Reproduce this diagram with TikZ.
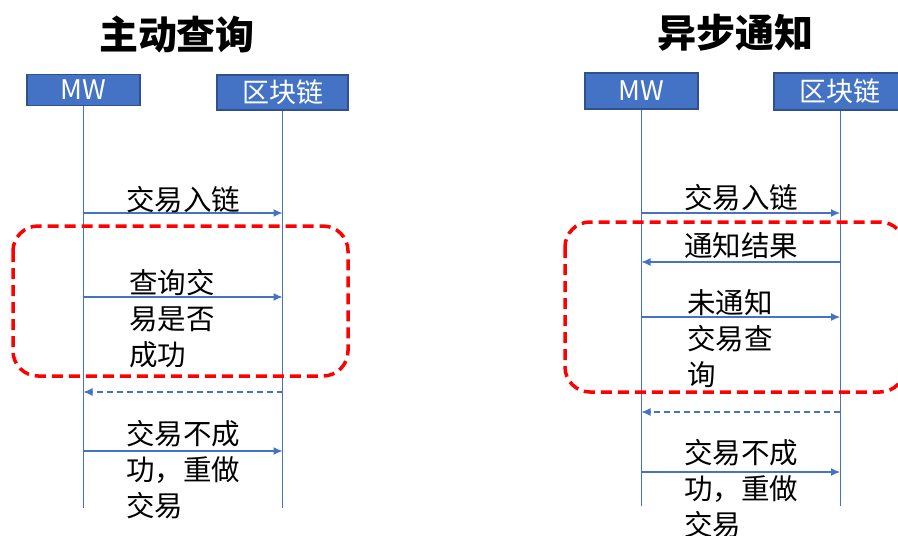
\documentclass[tikz,border=0pt]{standalone}
\usepackage{fontspec}
\setmainfont{Noto Sans CJK SC}
\usetikzlibrary{arrows.meta, positioning, calc}
\tikzset{>=Stealth}
\definecolor{lineblue}{HTML}{4472C4}
\definecolor{boxedge}{HTML}{2F528F}

\begin{document}
\begin{tikzpicture}[x=1pt, y=-1pt,
	actor/.style={draw=boxedge, line width=1.5pt, fill=lineblue, text=white, inner sep=0pt, font=\fontsize{27}{27}\selectfont},
	life/.style={lineblue, line width=0.9pt},
	msg/.style={lineblue, line width=1.2pt, -{Latex[length=9pt,width=8pt]}},
	reply/.style={msg, dash pattern=on 6pt off 4pt},
	frame/.style={red, line width=3.5pt, dash pattern=on 11pt off 6pt, rounded corners=25pt},
	label/.style={anchor=base west, align=left, inner sep=0pt, font=\fontsize{28.5}{36}\selectfont},
	title/.style={font=\bfseries\fontsize{39}{39}\selectfont}]
	\useasboundingbox (0,0) rectangle (898,536);
	% left: active query
	\node[title] (tL) at (177,35) {主动查询};
	\node[actor, minimum width=113pt, minimum height=31pt] (mwL) at (83.5,90) {MW};
	\node[actor, minimum width=131pt, minimum height=35pt] (bcL) at (282.5,92.5) {区块链};
	\coordinate (mwLend) at (84,508);
	\coordinate (bcLend) at (282,508);
	\draw[life] (mwL.south) -- (mwL.south |- mwLend);
	\draw[life] (bcL.south) -- (bcL.south |- bcLend);
	\coordinate (l1) at (0,213);
	\coordinate (l2) at (0,297);
	\coordinate (l3) at (0,392);
	\coordinate (l4) at (0,451);
	\draw[msg] (mwL |- l1) -- (bcL |- l1);
	\draw[msg] (mwL |- l2) -- (bcL |- l2);
	\draw[reply] (bcL |- l3) -- (mwL |- l3);
	\draw[msg] (mwL |- l4) -- (bcL |- l4);
	% base of a multi-line label is its last line
	\node[label] (lt1) at (126,210) {交易入链};
	\node[label] (lt2) at (129,365) {查询交\\易是否\\成功};
	\node[label] (lt4) at (126,516) {交易不成\\功，重做\\交易};
	\draw[frame] (13,226) rectangle (348,376);
	% right: async notify
	\node[title] (tR) at (735,33) {异步通知};
	\node[actor, minimum width=113pt, minimum height=36pt] (mwR) at (641.5,91) {MW};
	\node[actor, minimum width=132pt, minimum height=37pt] (bcR) at (840,91.5) {区块链};
	\coordinate (mwRend) at (641,506);
	\coordinate (bcRend) at (840,506);
	\draw[life] (mwR.south) -- (mwR.south |- mwRend);
	\draw[life] (bcR.south) -- (bcR.south |- bcRend);
	\coordinate (r1) at (0,213);
	\coordinate (r2) at (0,262);
	\coordinate (r3) at (0,317);
	\coordinate (r4) at (0,412);
	\coordinate (r5) at (0,472);
	\draw[msg] (mwR |- r1) -- (bcR |- r1);
	\draw[msg] (bcR |- r2) -- (mwR |- r2);
	\draw[msg] (mwR |- r3) -- (bcR |- r3);
	\draw[reply] (bcR |- r4) -- (mwR |- r4);
	\draw[msg] (mwR |- r5) -- (bcR |- r5);
	\node[label] (rt1) at (684,208) {交易入链};
	\node[label] (rt2) at (684,256) {通知结果};
	\node[label] (rt3) at (687,385) {未通知\\交易查\\询};
	\node[label] (rt5) at (684,535) {交易不成\\功，重做\\交易};
	\draw[frame] (565,222) rectangle (905,392);
\end{tikzpicture}
\end{document}
